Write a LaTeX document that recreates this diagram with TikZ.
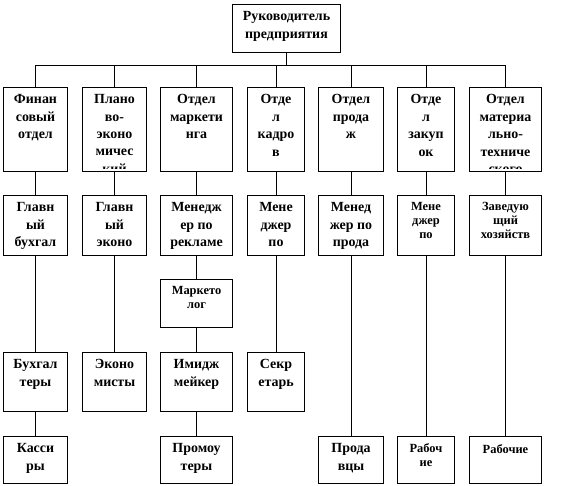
\documentclass[tikz,border=0pt]{standalone}
\usepackage{fontspec}
\setmainfont{Liberation Serif}
\usetikzlibrary{positioning}
\newcommand{\unitfont}{\fontsize{14}{17.5}\selectfont\bfseries}
\newcommand{\smallunitfont}{\fontsize{12.5}{14}\selectfont\bfseries}
\tikzset{
  unit text/.style={
    draw=none,
    anchor=north,
    align=center,
    inner sep=0pt,
    minimum width=0pt,
    minimum height=0pt,
    font=\unitfont,
    execute at begin node=\strut
  },
  unit frame/.style={
    draw,
    line width=1bp,
    anchor=north west,
    inner sep=0pt
  },
  unit/.style={
    unit frame,
    path picture={
      \clip ([yshift=3bp]path picture bounding box.south west) rectangle (path picture bounding box.north east);
      \node[unit text] at ([yshift=-6.5bp]path picture bounding box.north) {#1};}
  },
  small unit/.style={
    unit frame,
    path picture={\node[unit text, font=\smallunitfont] at ([yshift=-6.5bp]path picture bounding box.north) {#1};}
  },
  wh/.style 2 args={minimum width=#1bp, minimum height=#2bp},
  link/.style={line width=0.8bp}
}
\begin{document}
\begin{tikzpicture}[x=1bp, y=-1bp]
  \useasboundingbox (0,0) rectangle (570,486);
  % head of the company
  \node[unit={Руководитель\\предприятия}, wh={108}{48}] (head) at (232,4) {};
  \coordinate (bus) at (0,65);

  % departments
  \node[unit={Финан\\совый\\отдел}, wh={64}{84}] (fin) at (3,87) {};
  \node[unit={Плано\\во-\\эконо\\мичес\\кий}, wh={64}{84}] (plan) at (82,87) {};
  \node[unit={Отдел\\маркети\\нга}, wh={72}{84}] (mark) at (160,87) {};
  \node[unit={Отде\\л\\кадро\\в}, wh={57}{84}] (staff) at (247,87) {};
  \node[unit={Отдел\\прода\\ж}, wh={65}{84}] (sales) at (318,87) {};
  \node[unit={Отде\\л\\закуп\\ок}, wh={57}{84}] (purch) at (397,87) {};
  \node[unit={Отдел\\материа\\льно-\\техниче\\ского}, wh={72}{84}] (supply) at (469,87) {};

  % heads of departments
  \node[unit={Главн\\ый\\бухгал}, wh={64}{60}] (acc) at (3,195) {};
  \node[unit={Главн\\ый\\эконо}, wh={64}{60}] (econ) at (82,195) {};
  \node[unit={Менедж\\ер по\\рекламе}, wh={72}{60}] (adv) at (160,195) {};
  \node[unit={Мене\\джер\\по}, wh={57}{60}] (hrm) at (247,195) {};
  \node[unit={Менед\\жер по\\прода}, wh={65}{60}] (salesm) at (318,195) {};
  \node[small unit={Мене\\джер\\по}, wh={57}{60}] (purchm) at (397,195) {};
  \node[small unit={Заведую\\щий\\хозяйств}, wh={72}{60}] (house) at (469,195) {};
  \node[small unit={Маркето\\лог}, wh={72}{48}] (marketer) at (160,279) {};

  % staff
  \node[unit={Бухгал\\теры}, wh={64}{59}] (accs) at (3,352) {};
  \node[unit={Эконо\\мисты}, wh={64}{59}] (econs) at (82,352) {};
  \node[unit={Имидж\\мейкер}, wh={72}{59}] (image) at (160,352) {};
  \node[unit={Секр\\етарь}, wh={57}{59}] (secr) at (247,352) {};
  \node[unit={Касси\\ры}, wh={64}{47}] (cash) at (3,436) {};
  \node[unit={Промоу\\теры}, wh={72}{47}] (promo) at (160,436) {};
  \node[unit={Прода\\вцы}, wh={65}{47}] (sellers) at (318,436) {};
  \node[small unit={Рабоч\\ие}, wh={57}{47}] (workp) at (397,436) {};
  \node[small unit={Рабочие}, wh={72}{47}] (worksup) at (469,436) {};

  % connectors
  \draw[link] (head.south) -- (head.south |- bus);
  \draw[link] (fin.north |- bus) -- (supply.north |- bus);
  \foreach \n in {fin, plan, mark, staff, sales, purch, supply}
    \draw[link] (\n.north) -- (\n.north |- bus);
  \foreach \a/\b in {fin/acc, plan/econ, mark/adv, staff/hrm, sales/salesm,
      purch/purchm, supply/house, acc/accs, econ/econs, adv/marketer,
      marketer/image, hrm/secr, accs/cash, image/promo, salesm/sellers,
      purchm/workp, house/worksup}
    \draw[link] (\a.south) -- (\b.north);
\end{tikzpicture}
\end{document}
